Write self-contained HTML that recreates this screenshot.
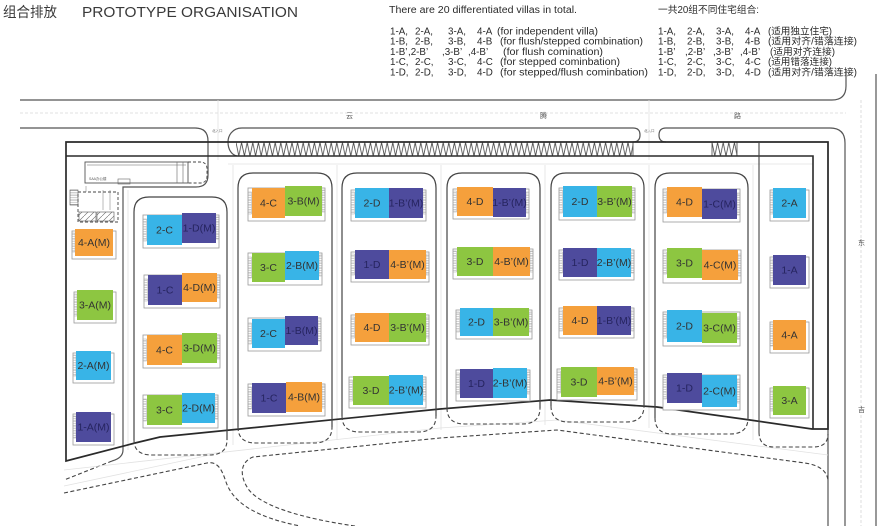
<!DOCTYPE html>
<html><head><meta charset="utf-8"><style>
html,body{margin:0;padding:0;background:#fff;}
svg{display:block;font-family:"Liberation Sans","Noto Sans CJK SC",sans-serif;}
.o{fill:#fff;stroke:#999;stroke-width:.8}
.s{fill:url(#hz);stroke:#aaa;stroke-width:.5}
.c1{fill:#4e4b9d}.c2{fill:#38b4e7}.c3{fill:#8dc641}.c4{fill:#f5a03c}
.l{font-size:10.5px;fill:#333;text-anchor:middle}
.lp{font-size:10.5px;fill:#26245f;text-anchor:middle}
.bk{fill:none;stroke:#444;stroke-width:1.2}
.bd{fill:none;stroke:#444;stroke-width:1.1;stroke-dasharray:4 2.5}
.fa{fill:none;stroke:#e2e2e2;stroke-width:.8}
.rd{fill:none;stroke:#555;stroke-width:1.2}
.t{font-size:9.8px;fill:#2a2a2a;font-family:"Liberation Sans","Noto Sans CJK SC",sans-serif}
</style></head><body>
<svg width="882" height="526" viewBox="0 0 882 526" xmlns="http://www.w3.org/2000/svg">
<defs>
<pattern id="hz" width="4" height="1.7" patternUnits="userSpaceOnUse"><rect width="4" height=".45" fill="#999"/></pattern>
<pattern id="zz" x="236" y="142.5" width="5.6" height="13.5" patternUnits="userSpaceOnUse"><path d="M0,0 L2.8,13.5 L5.6,0" fill="none" stroke="#444" stroke-width=".8"/></pattern>
<pattern id="dg" width="6" height="6" patternUnits="userSpaceOnUse"><path d="M0,6 L6,0" stroke="#666" stroke-width=".6"/></pattern>
</defs>

<!-- header text -->
<text x="3" y="17" font-size="14" fill="#3a3a3a" font-family="'Noto Sans CJK SC',sans-serif" textLength="54" lengthAdjust="spacingAndGlyphs">组合排放</text>
<text x="82" y="17" font-size="14.5" fill="#3a3a3a" font-family="'Liberation Sans',sans-serif" textLength="216" lengthAdjust="spacingAndGlyphs">PROTOTYPE ORGANISATION</text>

<g class="t" font-family="'Liberation Sans','Noto Sans CJK SC',sans-serif">
<text x="389" y="13" textLength="188" lengthAdjust="spacingAndGlyphs">There are 20 differentiated villas in total.</text>
<text x="390" y="34.5">1-A,</text><text x="415" y="34.5">2-A,</text><text x="448" y="34.5">3-A,</text><text x="477" y="34.5">4-A</text>
<text x="497" y="34.5" textLength="101" lengthAdjust="spacingAndGlyphs">(for independent villa)</text>
<text x="390" y="44.7">1-B,</text><text x="415" y="44.7">2-B,</text><text x="448" y="44.7">3-B,</text><text x="477" y="44.7">4-B</text>
<text x="500" y="44.7" textLength="143" lengthAdjust="spacingAndGlyphs">(for flush/stepped combination)</text>
<text x="390" y="54.9">1-B’</text><text x="408" y="54.9">,2-B’</text><text x="442" y="54.9">,3-B’</text><text x="468" y="54.9">,4-B’</text>
<text x="503" y="54.9" textLength="100" lengthAdjust="spacingAndGlyphs">(for flush comination)</text>
<text x="390" y="65.1">1-C,</text><text x="415" y="65.1">2-C,</text><text x="448" y="65.1">3-C,</text><text x="477" y="65.1">4-C</text>
<text x="500" y="65.1" textLength="120" lengthAdjust="spacingAndGlyphs">(for stepped cominbation)</text>
<text x="390" y="75.3">1-D,</text><text x="415" y="75.3">2-D,</text><text x="448" y="75.3">3-D,</text><text x="477" y="75.3">4-D</text>
<text x="500" y="75.3" textLength="148" lengthAdjust="spacingAndGlyphs">(for stepped/flush cominbation)</text>

<text x="658" y="13" textLength="101" lengthAdjust="spacingAndGlyphs">一共20组不同住宅组合:</text>
<text x="658" y="34.5">1-A,</text><text x="687" y="34.5">2-A,</text><text x="716" y="34.5">3-A,</text><text x="745" y="34.5">4-A</text>
<text x="768" y="34.5" textLength="64" lengthAdjust="spacingAndGlyphs">(适用独立住宅)</text>
<text x="658" y="44.7">1-B,</text><text x="687" y="44.7">2-B,</text><text x="716" y="44.7">3-B,</text><text x="745" y="44.7">4-B</text>
<text x="768" y="44.7" textLength="89" lengthAdjust="spacingAndGlyphs">(适用对齐/错落连接)</text>
<text x="658" y="54.9">1-B’</text><text x="685" y="54.9">,2-B’</text><text x="713" y="54.9">,3-B’</text><text x="740" y="54.9">,4-B’</text>
<text x="770" y="54.9" textLength="65" lengthAdjust="spacingAndGlyphs">(适用对齐连接)</text>
<text x="658" y="65.1">1-C,</text><text x="687" y="65.1">2-C,</text><text x="716" y="65.1">3-C,</text><text x="745" y="65.1">4-C</text>
<text x="768" y="65.1" textLength="64" lengthAdjust="spacingAndGlyphs">(适用错落连接)</text>
<text x="658" y="75.3">1-D,</text><text x="687" y="75.3">2-D,</text><text x="716" y="75.3">3-D,</text><text x="745" y="75.3">4-D</text>
<text x="768" y="75.3" textLength="89" lengthAdjust="spacingAndGlyphs">(适用对齐/错落连接)</text>
</g>

<!-- roads -->
<path class="rd" d="M20,100 L832,100 Q846,100 846,86 L846,70"/>
<path class="rd" d="M876,74 L876,526"/>
<path d="M20,113 L846,113" stroke="#d6d6d6" stroke-width=".8" stroke-dasharray="3 2"/>
<path d="M861,100 L861,526" stroke="#d6d6d6" stroke-width=".8" stroke-dasharray="3 2"/>
<path class="rd" d="M20,128 L195,128 Q208,128 208,141 L208,175 Q208,187 196,187 L123,187 L123,450 Q123,458 112,461"/>
<path class="bd" d="M112,461 L64,480"/>
<path class="rd" d="M633,142 Q640,142 640,135 Q640,128 633,128 L242,128 C232,128 228,136 228,142 C228,150 232,155 237,156"/>
<path class="rd" d="M666,142 Q659,142 659,135 Q659,128 666,128 L830,128 Q845,128 845,143 L845,526"/>
<path class="rd" d="M828,142 L828,526"/>
<text x="346" y="118" font-size="7" fill="#555">云</text>
<text x="540" y="118" font-size="7" fill="#555">腾</text>
<text x="734" y="118" font-size="7" fill="#555">路</text>
<text x="858" y="245" font-size="7" fill="#555">东</text>
<text x="858" y="412" font-size="7" fill="#555">吉</text>
<text x="212" y="132" font-size="3.5" fill="#666">北入口</text>
<text x="644" y="132" font-size="3.5" fill="#666">北入口</text>
<path class="fa" d="M218,100 L218,160 M649,100 L649,160 M228,164 L813,164 M233,165 L233,445 M337,165 L337,440 M441,165 L441,430 M545,165 L545,425 M649,165 L649,428 M753,165 L753,440 M128,190 L128,450"/>

<!-- parking zigzag -->
<rect x="236" y="142.5" width="397" height="13.5" fill="url(#zz)"/>
<rect x="712" y="142.5" width="25" height="13.5" fill="url(#zz)"/>
<path d="M633,142 L633,156 M712,142 L712,156 M737,142 L737,156" stroke="#444" stroke-width=".8"/>

<!-- site boundary -->
<polygon points="66,461 66,142 828,142 828,429 812,429 750,420 657,407 550,400 440,409 160,437 135,443" fill="none" stroke="#2a2a2a" stroke-width="1.7"/>
<polyline points="66,156 813,156 813,429" fill="none" stroke="#2a2a2a" stroke-width="1.6"/>
<path d="M759,142 L759,432" stroke="#444" stroke-width="1.1"/>

<!-- lower dashed roads -->
<path class="bd" d="M64,493 L207,463 C218,461 222,470 226,482 C234,505 260,518 300,526"/>
<path class="bd" d="M355,526 C300,518 262,506 249,490 C239,476 240,462 253,457 L440,438 L557,430 L805,463 Q826,466 828,480"/>
<path class="fa" d="M64,470 L440,428 L557,420 L828,455 M64,486 L210,455"/>

<!-- top-left building -->
<rect x="85" y="162" width="103" height="21" fill="none" stroke="#555" stroke-width=".9"/>
<path d="M87,165 L186,165 M177,162 L177,183 M183,162 L183,183" stroke="#666" stroke-width=".6"/>
<path d="M188,162 L200,162 Q207,162 207,169 L207,176 Q207,183 200,183 L188,183" fill="none" stroke="#444" stroke-width=".9" stroke-dasharray="3 2"/>
<text x="89" y="180" font-size="3.5" fill="#555">SAA办公楼</text>
<rect x="118" y="179" width="12" height="5" fill="none" stroke="#666" stroke-width=".6"/>
<path d="M78,192 L118,192 L118,222 L78,222 Z" fill="none" stroke="#444" stroke-width=".9" stroke-dasharray="3 2"/>
<rect x="70" y="190" width="8" height="15" fill="url(#hz)" stroke="#555" stroke-width=".6"/>
<rect x="79" y="212" width="17" height="9" fill="url(#dg)" stroke="#555" stroke-width=".6"/>
<rect x="97" y="212" width="17" height="9" fill="url(#dg)" stroke="#555" stroke-width=".6"/>
<path d="M103,190 L103,210 M110,190 L110,210 M86,186 L86,192" stroke="#777" stroke-width=".5"/>

<!-- blocks -->
<path class="bk" d="M134,440 L134,212 Q134,197 149,197 L212,197 Q227,197 227,212 L227,440"/>
<path class="bd" d="M134,440 Q134,455 152,455 L209,455 Q227,455 227,440"/>
<path class="bk" d="M238,427 L238,188 Q238,173 253,173 L317,173 Q332,173 332,188 L332,427"/>
<path class="bd" d="M238,427 Q238,443 256,443 L314,443 Q332,443 332,427"/>
<path class="bk" d="M342,416 L342,188 Q342,173 357,173 L421,173 Q436,173 436,188 L436,416"/>
<path class="bd" d="M342,416 Q342,432 360,432 L418,432 Q436,432 436,416"/>
<path class="bk" d="M447,408 L447,188 Q447,173 462,173 L525,173 Q540,173 540,188 L540,408"/>
<path class="bd" d="M447,408 Q447,424 465,424 L522,424 Q540,424 540,408"/>
<path class="bk" d="M551,406 L551,188 Q551,173 566,173 L629,173 Q644,173 644,188 L644,406"/>
<path class="bd" d="M551,406 Q551,422 569,422 L626,422 Q644,422 644,406"/>
<path class="bk" d="M655,418 L655,188 Q655,173 670,173 L733,173 Q748,173 748,188 L748,418"/>
<path class="bd" d="M655,418 Q655,434 673,434 L730,434 Q748,434 748,418"/>
<path class="bd" d="M759,432 Q759,447 774,447 L813,447 Q828,447 828,434"/>

<!-- Block 1 -->
<rect class="o" x="143" y="215" width="76" height="33"/><rect class="s" x="143" y="219" width="3.5" height="22"/><rect class="s" x="216" y="217" width="3" height="22"/>
<rect class="c2" x="147" y="215" width="35" height="30"/><rect class="c1" x="182" y="213" width="34" height="30"/>
<text class="l" x="164.5" y="233.7">2-C</text><text class="lp" x="199" y="231.7">1-D(M)</text>

<rect class="o" x="144" y="275" width="76" height="33"/><rect class="s" x="144" y="279" width="3.5" height="22"/><rect class="s" x="217" y="277" width="3" height="21"/>
<rect class="c1" x="148" y="275" width="34" height="30"/><rect class="c4" x="182" y="273" width="35" height="29"/>
<text class="lp" x="165" y="293.7">1-C</text><text class="l" x="199.5" y="291.2">4-D(M)</text>

<rect class="o" x="143" y="335" width="77" height="33"/><rect class="s" x="143" y="339" width="3.5" height="22"/><rect class="s" x="217" y="337" width="3" height="22"/>
<rect class="c4" x="147" y="335" width="35" height="30"/><rect class="c3" x="182" y="333" width="35" height="30"/>
<text class="l" x="164.5" y="353.7">4-C</text><text class="l" x="199.5" y="351.7">3-D(M)</text>

<rect class="o" x="143" y="395" width="75" height="33"/><rect class="s" x="143" y="399" width="3.5" height="22"/><rect class="s" x="215" y="397" width="3" height="22"/>
<rect class="c3" x="147" y="395" width="35" height="30"/><rect class="c2" x="182" y="393" width="33" height="30"/>
<text class="l" x="164.5" y="413.7">3-C</text><text class="l" x="198.5" y="411.7">2-D(M)</text>

<!-- Block 2 -->
<rect class="o" x="248" y="188" width="77" height="33"/><rect class="s" x="248" y="192" width="3.5" height="22"/><rect class="s" x="322" y="190" width="3" height="22"/>
<rect class="c4" x="252" y="188" width="33" height="30"/><rect class="c3" x="285" y="186" width="37" height="30"/>
<text class="l" x="268.5" y="206.7">4-C</text><text class="l" x="303.5" y="204.7">3-B(M)</text>

<rect class="o" x="248" y="253" width="74" height="32"/><rect class="s" x="248" y="257" width="3.5" height="21"/><rect class="s" x="319" y="255" width="3" height="21"/>
<rect class="c3" x="252" y="253" width="33" height="29"/><rect class="c2" x="285" y="251" width="34" height="29"/>
<text class="l" x="268.5" y="271.2">3-C</text><text class="l" x="302" y="269.2">2-B(M)</text>

<rect class="o" x="248" y="318" width="73" height="33"/><rect class="s" x="248" y="323" width="3.5" height="21"/><rect class="s" x="318" y="320" width="3" height="21"/>
<rect class="c2" x="252" y="319" width="33" height="29"/><rect class="c1" x="285" y="316" width="33" height="29"/>
<text class="l" x="268.5" y="337.2">2-C</text><text class="lp" x="301.5" y="334.2">1-B(M)</text>

<rect class="o" x="248" y="384" width="77" height="32"/><rect class="s" x="248" y="387" width="3.5" height="22"/><rect class="s" x="322" y="386" width="3" height="22"/>
<rect class="c1" x="252" y="383" width="34" height="30"/><rect class="c4" x="286" y="382" width="36" height="30"/>
<text class="lp" x="269" y="401.7">1-C</text><text class="l" x="304" y="400.7">4-B(M)</text>

<!-- Block 3 -->
<rect class="o" x="351" y="190" width="75" height="31"/><rect class="s" x="351" y="192" width="3.5" height="22"/><rect class="s" x="423" y="192" width="3" height="22"/>
<rect class="c2" x="355" y="188" width="34" height="30"/><rect class="c1" x="389" y="188" width="34" height="30"/>
<text class="l" x="372" y="206.7">2-D</text><text class="lp" x="406" y="206.7">1-B’(M)</text>

<rect class="o" x="351" y="252" width="78" height="30"/><rect class="s" x="351" y="254" width="3.5" height="21"/><rect class="s" x="426" y="254" width="3" height="21"/>
<rect class="c1" x="355" y="250" width="34" height="29"/><rect class="c4" x="389" y="250" width="37" height="29"/>
<text class="lp" x="372" y="268.2">1-D</text><text class="l" x="407.5" y="268.2">4-B’(M)</text>

<rect class="o" x="351" y="315" width="78" height="30"/><rect class="s" x="351" y="317" width="3.5" height="21"/><rect class="s" x="426" y="317" width="3" height="21"/>
<rect class="c4" x="355" y="313" width="34" height="29"/><rect class="c3" x="389" y="313" width="37" height="29"/>
<text class="l" x="372" y="331.2">4-D</text><text class="l" x="407.5" y="331.2">3-B’(M)</text>

<rect class="o" x="349" y="377" width="77" height="31"/><rect class="s" x="349" y="380" width="3.5" height="21"/><rect class="s" x="423" y="379" width="3" height="22"/>
<rect class="c3" x="353" y="376" width="36" height="29"/><rect class="c2" x="389" y="375" width="34" height="30"/>
<text class="l" x="371" y="394.2">3-D</text><text class="l" x="406" y="393.7">2-B’(M)</text>

<!-- Block 4 -->
<rect class="o" x="453" y="189" width="76" height="30"/><rect class="s" x="453" y="191" width="3.5" height="21"/><rect class="s" x="526" y="192" width="3" height="21"/>
<rect class="c4" x="457" y="187" width="36" height="29"/><rect class="c1" x="493" y="188" width="33" height="29"/>
<text class="l" x="475" y="205.2">4-D</text><text class="lp" x="509.5" y="206.2">1-B’(M)</text>

<rect class="o" x="453" y="249" width="80" height="30"/><rect class="s" x="453" y="251" width="3.5" height="21"/><rect class="s" x="530" y="251" width="3" height="21"/>
<rect class="c3" x="457" y="247" width="36" height="29"/><rect class="c4" x="493" y="247" width="37" height="29"/>
<text class="l" x="475" y="265.2">3-D</text><text class="l" x="511.5" y="265.2">4-B’(M)</text>

<rect class="o" x="456" y="310" width="76" height="29"/><rect class="s" x="456" y="312" width="3.5" height="20"/><rect class="s" x="529" y="312" width="3" height="20"/>
<rect class="c2" x="460" y="308" width="33" height="28"/><rect class="c3" x="493" y="308" width="36" height="28"/>
<text class="l" x="476.5" y="325.7">2-D</text><text class="l" x="511" y="325.7">3-B’(M)</text>

<rect class="o" x="456" y="370" width="74" height="31"/><rect class="s" x="456" y="373" width="3.5" height="21"/><rect class="s" x="527" y="372" width="3" height="22"/>
<rect class="c1" x="460" y="369" width="33" height="29"/><rect class="c2" x="493" y="368" width="34" height="30"/>
<text class="lp" x="476.5" y="387.2">1-D</text><text class="l" x="510" y="386.7">2-B’(M)</text>

<!-- Block 5 -->
<rect class="o" x="559" y="188" width="76" height="32"/><rect class="s" x="559" y="190" width="3.5" height="23"/><rect class="s" x="632" y="190" width="3" height="23"/>
<rect class="c2" x="563" y="186" width="34" height="31"/><rect class="c3" x="597" y="186" width="35" height="31"/>
<text class="l" x="580" y="205.2">2-D</text><text class="l" x="614.5" y="205.2">3-B’(M)</text>

<rect class="o" x="559" y="250" width="75" height="30"/><rect class="s" x="559" y="252" width="3.5" height="21"/><rect class="s" x="631" y="252" width="3" height="21"/>
<rect class="c1" x="563" y="248" width="34" height="29"/><rect class="c2" x="597" y="248" width="34" height="29"/>
<text class="lp" x="580" y="266.2">1-D</text><text class="l" x="614" y="266.2">2-B’(M)</text>

<rect class="o" x="559" y="308" width="75" height="30"/><rect class="s" x="559" y="310" width="3.5" height="21"/><rect class="s" x="631" y="310" width="3" height="21"/>
<rect class="c4" x="563" y="306" width="34" height="29"/><rect class="c1" x="597" y="306" width="34" height="29"/>
<text class="l" x="580" y="324.2">4-D</text><text class="lp" x="614" y="324.2">1-B’(M)</text>

<rect class="o" x="557" y="369" width="80" height="31"/><rect class="s" x="557" y="371" width="3.5" height="22"/><rect class="s" x="634" y="371" width="3" height="20"/>
<rect class="c3" x="561" y="367" width="36" height="30"/><rect class="c4" x="597" y="367" width="37" height="28"/>
<text class="l" x="579" y="385.7">3-D</text><text class="l" x="615.5" y="384.7">4-B’(M)</text>

<!-- Block 6 -->
<rect class="o" x="663" y="189" width="77" height="33"/><rect class="s" x="663" y="191" width="3.5" height="22"/><rect class="s" x="737" y="193" width="3" height="22"/>
<rect class="c4" x="667" y="187" width="35" height="30"/><rect class="c1" x="702" y="189" width="35" height="30"/>
<text class="l" x="684.5" y="205.7">4-D</text><text class="lp" x="719.5" y="207.7">1-C(M)</text>

<rect class="o" x="663" y="250" width="78" height="33"/><rect class="s" x="663" y="252" width="3.5" height="22"/><rect class="s" x="738" y="254" width="3" height="22"/>
<rect class="c3" x="667" y="248" width="35" height="30"/><rect class="c4" x="702" y="250" width="36" height="30"/>
<text class="l" x="684.5" y="266.7">3-D</text><text class="l" x="720" y="268.7">4-C(M)</text>

<rect class="o" x="663" y="312" width="77" height="34"/><rect class="s" x="663" y="314" width="3.5" height="24"/><rect class="s" x="737" y="317" width="3" height="22"/>
<rect class="c2" x="667" y="310" width="35" height="32"/><rect class="c3" x="702" y="313" width="35" height="30"/>
<text class="l" x="684.5" y="329.7">2-D</text><text class="l" x="719.5" y="331.7">3-C(M)</text>

<rect class="o" x="663" y="375" width="77" height="35"/><rect class="s" x="663" y="377" width="3.5" height="22"/><rect class="s" x="737" y="379" width="3" height="24"/>
<rect class="c1" x="667" y="373" width="35" height="30"/><rect class="c2" x="702" y="375" width="35" height="32"/>
<text class="lp" x="684.5" y="391.7">1-D</text><text class="l" x="719.5" y="394.7">2-C(M)</text>

<!-- right column singles -->
<rect class="o" x="770" y="190" width="39" height="31"/><rect class="s" x="770" y="192" width="3" height="22"/>
<rect class="c2" x="773" y="188" width="33" height="30"/><text class="l" x="789.5" y="206.7">2-A</text>
<rect class="o" x="770" y="257" width="39" height="31"/><rect class="s" x="770" y="259" width="3" height="22"/>
<rect class="c1" x="773" y="255" width="33" height="30"/><text class="lp" x="789.5" y="273.7">1-A</text>
<rect class="o" x="770" y="322" width="39" height="31"/><rect class="s" x="770" y="324" width="3" height="22"/>
<rect class="c4" x="773" y="320" width="33" height="30"/><text class="l" x="789.5" y="338.7">4-A</text>
<rect class="o" x="770" y="388" width="39" height="30"/><rect class="s" x="770" y="390" width="3" height="21"/>
<rect class="c3" x="773" y="386" width="33" height="29"/><text class="l" x="789.5" y="404.2">3-A</text>

<!-- left column singles -->
<rect class="o" x="72" y="231" width="44" height="28"/><rect class="s" x="72" y="233" width="3" height="19"/>
<rect class="c4" x="75" y="229" width="38" height="27"/><text class="l" x="94" y="246.2">4-A(M)</text>
<rect class="o" x="74" y="292" width="42" height="31"/><rect class="s" x="74" y="294" width="3" height="22"/>
<rect class="c3" x="77" y="290" width="36" height="30"/><text class="l" x="95" y="308.7">3-A(M)</text>
<rect class="o" x="73" y="353" width="41" height="30"/><rect class="s" x="73" y="355" width="3" height="21"/>
<rect class="c2" x="76" y="351" width="35" height="29"/><text class="l" x="93.5" y="369.2">2-A(M)</text>
<rect class="o" x="73" y="414" width="41" height="31"/><rect class="s" x="73" y="416" width="3" height="22"/>
<rect class="c1" x="76" y="412" width="35" height="30"/><text class="lp" x="93.5" y="430.7">1-A(M)</text>
</svg>
</body></html>
